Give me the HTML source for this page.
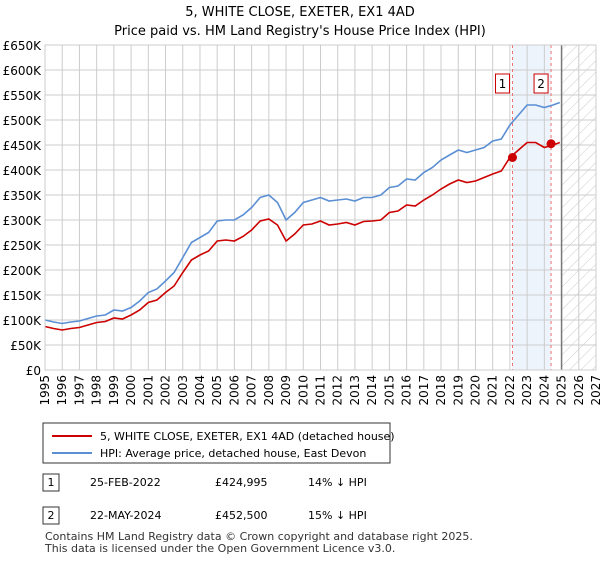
<!DOCTYPE html>
<html><head><meta charset="utf-8"><style>
body{margin:0;background:#fff;font-family:"Liberation Sans","DejaVu Sans",sans-serif;}
svg text{font-family:"DejaVu Sans","Liberation Sans",sans-serif;}
</style></head><body>
<svg id="c" width="600" height="560" viewBox="0 0 600 560" xmlns="http://www.w3.org/2000/svg">
<defs><pattern id="hatch" width="8" height="8" patternUnits="userSpaceOnUse" patternTransform="rotate(45)"><line x1="0" y1="0" x2="0" y2="8" stroke="#ccc" stroke-width="1"/></pattern></defs>
<text x="300" y="16" text-anchor="middle" font-size="13">5, WHITE CLOSE, EXETER, EX1 4AD</text>
<text x="300" y="35" text-anchor="middle" font-size="13">Price paid vs. HM Land Registry's House Price Index (HPI)</text>
<g id="plot"></g>
<g>
<rect x="43" y="423" width="347" height="40" fill="#fff" stroke="#333"/>
<line x1="52" y1="436" x2="92" y2="436" stroke="#cc0000" stroke-width="2"/>
<text x="100" y="440" font-size="11">5, WHITE CLOSE, EXETER, EX1 4AD (detached house)</text>
<line x1="52" y1="453" x2="92" y2="453" stroke="#5b8fd4" stroke-width="2"/>
<text x="100" y="457" font-size="11">HPI: Average price, detached house, East Devon</text>
</g>
<g font-size="11">
<rect x="43" y="474" width="16" height="17" fill="#fff" stroke="#333"/><text x="51" y="486" text-anchor="middle">1</text>
<text x="90" y="486">25-FEB-2022</text><text x="215" y="486">£424,995</text><text x="308" y="486">14% ↓ HPI</text>
<rect x="43" y="507" width="16" height="17" fill="#fff" stroke="#333"/><text x="51" y="519" text-anchor="middle">2</text>
<text x="90" y="519">22-MAY-2024</text><text x="215" y="519">£452,500</text><text x="308" y="519">15% ↓ HPI</text>
</g>
<text x="45" y="540" font-size="11" fill="#333">Contains HM Land Registry data © Crown copyright and database right 2025.</text>
<text x="45" y="552" font-size="11" fill="#333">This data is licensed under the Open Government Licence v3.0.</text>
</svg>
<script>
const years=[1995,1995.5,1996,1996.5,1997,1997.5,1998,1998.5,1999,1999.5,2000,2000.5,2001,2001.5,2002,2002.5,2003,2003.5,2004,2004.5,2005,2005.5,2006,2006.5,2007,2007.5,2008,2008.5,2009,2009.5,2010,2010.5,2011,2011.5,2012,2012.5,2013,2013.5,2014,2014.5,2015,2015.5,2016,2016.5,2017,2017.5,2018,2018.5,2019,2019.5,2020,2020.5,2021,2021.5,2022,2022.5,2023,2023.5,2024,2024.5,2024.9];
const hpi=[100,96,93,96,98,103,108,110,120,118,125,138,155,162,178,195,225,255,265,275,298,300,300,310,325,345,350,335,300,315,335,340,345,338,340,342,338,345,345,350,365,368,382,380,395,405,420,430,440,435,440,445,458,462,490,510,530,530,525,530,535];
const paid=[87,83,80,83,85,90,95,97,104,102,110,120,135,140,155,168,195,220,230,238,258,260,258,267,280,298,302,290,258,272,290,292,298,290,292,295,290,297,298,300,315,318,330,328,340,350,362,372,380,375,378,385,392,398,425,440,455,455,445,450,455];
const saleYears=[2022.15,2024.39];
const saleVals=[424.995,452.5];
const yTicks=[0,50,100,150,200,250,300,350,400,450,500,550,600,650];
const xTicks=[1995,1996,1997,1998,1999,2000,2001,2002,2003,2004,2005,2006,2007,2008,2009,2010,2011,2012,2013,2014,2015,2016,2017,2018,2019,2020,2021,2022,2023,2024,2025,2026,2027];
const X0=45,X1=596,Y0=370,Y1=45;
const sx=v=>X0+(v-1995)/(2027-1995)*(X1-X0);
const sy=v=>Y0-v/650*(Y0-Y1);
const NS="http://www.w3.org/2000/svg",g=document.getElementById('plot');
function mk(t,a,p){const e=document.createElementNS(NS,t);for(const k in a)e.setAttribute(k,a[k]);(p||g).appendChild(e);return e;}
let e=mk('rect',{x:sx(saleYears[0]),y:Y1,width:sx(saleYears[1])-sx(saleYears[0]),height:Y0-Y1,fill:'#eef4fc'});


e=mk('rect',{x:sx(2025),y:Y1,width:X1-sx(2025),height:Y0-Y1,fill:'url(#hatch)'});


yTicks.forEach(v=>{
 e=mk('line',{x1:X0,x2:X1,y1:sy(v),y2:sy(v),stroke:'#ccc'});
 
 
 e=mk('text',{x:X0-4,y:sy(v)+5,'text-anchor':'end','font-size':'12'});e.textContent='£'+(v?v+'K':'0');
 
 
});
xTicks.forEach(v=>{
 e=mk('line',{x1:sx(v),x2:sx(v),y1:Y1,y2:Y0,stroke:'#ccc'});
 
 
 const x=sx(v)+4,y=Y0+5;
 e=mk('text',{x:x,y:y,transform:'rotate(-90 '+x+' '+y+')','text-anchor':'end','font-size':'12'});e.textContent=v;
 
 
});
e=mk('line',{x1:sx(2025),x2:sx(2025),y1:Y1,y2:Y0,stroke:'#777','stroke-width':1.5});


saleYears.forEach((v,i)=>{
 e=mk('line',{x1:sx(v),x2:sx(v),y1:Y1,y2:Y0,stroke:'#f07070','stroke-dasharray':'3,3'});
 
 
 e=mk('rect',{x:sx(v)-17,y:74,width:14,height:19,fill:'#fff',stroke:'#cc0000'});
 
 
 e=mk('text',{x:sx(v)-10,y:88,'text-anchor':'middle','font-size':'12'});e.textContent=i+1;
 
 
});
function line(arr,c,name){const d=arr.map((v,i)=>(i?'L':'M')+sx(years[i]).toFixed(1)+','+sy(v).toFixed(1)).join('');
 const p=mk('path',{d:d,fill:'none',stroke:c,'stroke-width':1.6});
 
 }
line(hpi,'#5b8fd4','hpi-line');
line(paid,'#cc0000','price-paid-line');
saleYears.forEach((v,i)=>{e=mk('circle',{cx:sx(v),cy:sy(saleVals[i]),r:4.5,fill:'#cc0000'});
 
 });
e=mk('rect',{x:X0,y:Y1,width:X1-X0,height:Y0-Y1,fill:'none',stroke:'#ccc'});


</script>
</body></html>
